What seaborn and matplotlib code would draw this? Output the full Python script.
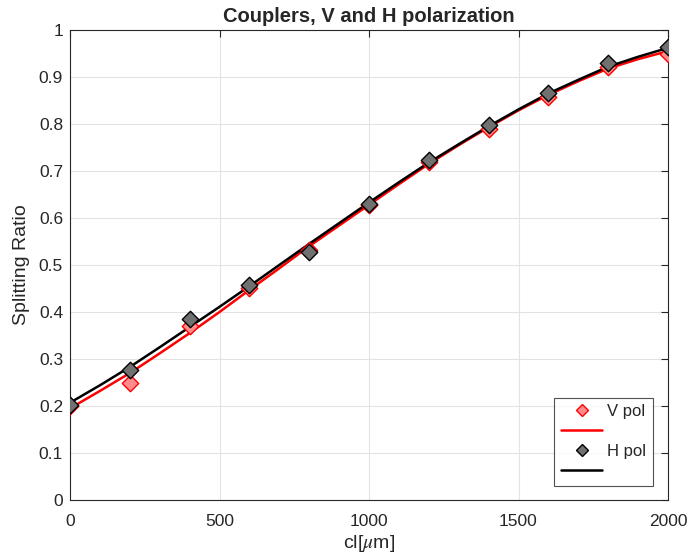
import matplotlib
matplotlib.use("Agg")
import matplotlib.pyplot as plt
import seaborn as sns
import pandas as pd
from matplotlib.lines import Line2D

# measured points
cl_points = [0, 200, 400, 600, 800, 1000, 1200, 1400, 1600, 1800, 2000]
v_pol = [0.200, 0.249, 0.370, 0.452, 0.532, 0.627, 0.720, 0.790, 0.857, 0.921, 0.950]
h_pol = [0.202, 0.277, 0.386, 0.458, 0.527, 0.630, 0.724, 0.798, 0.866, 0.930, 0.963]

# fitted curves
cl_fit = [0, 100, 200, 300, 400, 500, 600, 700, 800, 900, 1000,
          1100, 1200, 1300, 1400, 1500, 1600, 1700, 1800, 1900, 2000]
v_fit = [0.195, 0.232, 0.270, 0.312, 0.355, 0.400, 0.447, 0.493, 0.540, 0.584, 0.628,
         0.672, 0.715, 0.755, 0.793, 0.829, 0.862, 0.891, 0.918, 0.938, 0.955]
h_fit = [0.207, 0.244, 0.283, 0.325, 0.368, 0.411, 0.455, 0.500, 0.545, 0.589, 0.633,
         0.676, 0.718, 0.757, 0.795, 0.831, 0.865, 0.894, 0.922, 0.943, 0.962]

x_ticks = [0, 500, 1000, 1500, 2000]
y_ticks = [0, 0.1, 0.2, 0.3, 0.4, 0.5, 0.6, 0.7, 0.8, 0.9, 1]
y_tick_labels = ["0", "0.1", "0.2", "0.3", "0.4", "0.5", "0.6", "0.7", "0.8", "0.9", "1"]

sns.set_style("white")
plt.rcParams["font.family"] = ["Liberation Sans", "DejaVu Sans"]
plt.rcParams["mathtext.fontset"] = "stix"

fig = plt.figure(figsize=(6.88, 5.58), dpi=100)
ax = fig.add_axes([70 / 688, 58 / 558, 598 / 688, 470 / 558])

pts = pd.DataFrame({"cl": cl_points, "V": v_pol, "H": h_pol})
fit = pd.DataFrame({"cl": cl_fit, "V": v_fit, "H": h_fit})

sns.lineplot(data=fit, x="cl", y="V", ax=ax, color="#ff0000", lw=1.8, zorder=3)
sns.lineplot(data=fit, x="cl", y="H", ax=ax, color="#000000", lw=1.8, zorder=4)
sns.scatterplot(data=pts, x="cl", y="V", ax=ax, marker="D", s=70,
                color="#ff8c8c", edgecolor="#ff0000", linewidth=1.0, zorder=5)
sns.scatterplot(data=pts, x="cl", y="H", ax=ax, marker="D", s=70,
                color="#707070", edgecolor="#000000", linewidth=1.0, zorder=6)

ax.set_xlim(0, 2000)
ax.set_ylim(0, 1)
ax.set_xticks(x_ticks)
ax.set_yticks(y_ticks)
ax.set_yticklabels(y_tick_labels)
ax.grid(True, color="#e3e3e3", lw=0.8)
ax.set_axisbelow(True)
ax.tick_params(direction="in", length=5, width=0.8, colors="#262626",
               labelsize=12.5, top=True, right=True, pad=5)
ax.tick_params(axis="x", pad=10)
for s in ax.spines.values():
    s.set_visible(True)
    s.set_color("#262626")
    s.set_linewidth(0.8)

ax.set_xlabel(r"cl[$\mu$m]", fontsize=14, color="#262626", labelpad=3)
ax.set_ylabel("Splitting Ratio", fontsize=14, color="#262626", labelpad=6)
ax.set_title("Couplers, V and H polarization", fontsize=14.5, fontweight="bold", pad=6)

handles = [
    Line2D([], [], ls="none", marker="D", ms=6.5, mfc="#ff8c8c", mec="#ff0000"),
    Line2D([], [], color="#ff0000", lw=1.8),
    Line2D([], [], ls="none", marker="D", ms=6.5, mfc="#707070", mec="#000000"),
    Line2D([], [], color="#000000", lw=1.8),
]
labels = ["V pol", " ", "H pol", " "]
leg = ax.legend(handles, labels, loc="lower right", bbox_to_anchor=(0.975, 0.03),
                fontsize=12, frameon=True, fancybox=False, edgecolor="#262626",
                handlelength=2.5, labelspacing=0.3, borderpad=0.4, handletextpad=0.3,
                borderaxespad=0)
leg.get_frame().set_linewidth(0.8)

fig.savefig("out.png", dpi=100)
